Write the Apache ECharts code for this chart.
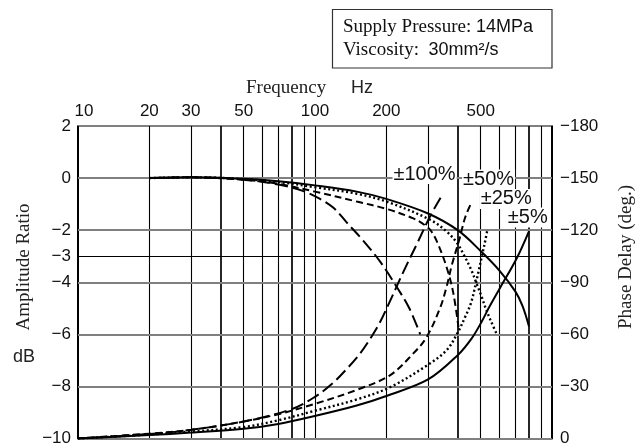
<!DOCTYPE html>
<html>
<head>
<meta charset="utf-8">
<script src="https://cdn.jsdelivr.net/npm/echarts@6/dist/echarts.min.js"></script>
<style>
  html, body { margin: 0; padding: 0; background: #fff; }
  #chart { width: 644px; height: 447px; }
</style>
</head>
<body>
<div id="chart"></div>
<script>
// Frequency labels on the top axis and vertical grid positions (Hz)
const freqLabels = [10, 20, 30, 50, 100, 200, 500];
const freqGrid = [10, 20, 30, 40, 50, 60, 70, 80, 90, 100, 200, 300, 400, 500, 600, 700, 800, 900, 1000];
const freqHeavy = [40, 80, 400, 800];

// Amplitude (dB, left) and phase (deg, right) tick values
const ampTicks = [2, 0, -2, -3, -4, -6, -8, -10];
const ampGrid = [-10, -8, -6, -4, -3, -2, 0];
const phaseTicks = [0, 30, 60, 90, 120, 150, 180];

// Input amplitude tags
const tolNames = ['±5%', '±25%', '±50%', '±100%'];

// Amplitude ratio [Hz, dB]
const amp5 = [[20, 0], [30, 0.03], [50, -0.03], [70, -0.12], [100, -0.28], [150, -0.52], [200, -0.8], [300, -1.36], [400, -2.0], [500, -2.8], [600, -3.55], [700, -4.35], [750, -4.9], [800, -5.7]];
const amp25 = [[20, 0], [30, 0.03], [50, -0.04], [70, -0.15], [100, -0.35], [150, -0.6], [200, -0.9], [306, -1.6], [360, -2.06], [398, -2.5], [424, -2.94], [455, -3.5], [482, -4.08], [506, -4.58], [523, -4.96], [550, -5.45], [585, -6.0]];
const amp50 = [[20, 0], [30, 0.03], [50, -0.06], [70, -0.22], [100, -0.52], [150, -0.9], [200, -1.18], [260, -1.55], [290, -1.8], [310, -2.05], [331, -2.55], [360, -3.45], [383, -4.4], [403, -5.72]];
const amp100 = [[20, 0], [30, 0.03], [50, -0.06], [70, -0.25], [88, -0.48], [105, -0.8], [120, -1.15], [136, -1.7], [159, -2.38], [188, -3.2], [222, -4.2], [250, -5.0], [278, -6.0]];

// Phase delay [Hz, deg]
const phase5 = [[10, 0], [20, 2], [30, 3.4], [50, 5.6], [70, 8.4], [100, 13], [150, 19], [200, 24.5], [300, 34], [400, 48], [460, 58], [506, 67.5], [540, 75], [605, 87], [711, 104], [800, 119.5]];
const phase25 = [[10, 0], [20, 2.3], [30, 4], [50, 6.6], [70, 10.5], [100, 16], [150, 22.5], [207, 29.5], [300, 42.5], [360, 51], [400, 61], [430, 70], [455, 78], [482, 92], [506, 105], [523, 114], [535, 121]];
const phase50 = [[10, 0], [20, 2.8], [30, 5], [50, 9.8], [70, 14], [100, 20], [150, 28], [207, 36.4], [260, 49], [296, 58.5], [338, 75.6], [360, 88], [378, 100], [406, 114.4], [431, 127.7], [459, 136.4]];
const phase100 = [[10, 0], [20, 2.6], [30, 5], [50, 9.8], [80, 17], [100, 24], [118, 31.5], [136, 40], [155, 49], [171, 57.5], [188, 67], [207, 79], [236, 96], [269, 112], [306, 128], [340, 139]];

// ---- drawing ----
const SANS = 'Liberation Sans';
const SERIF = 'Liberation Serif';
const INK = '#111';

const ampSets = [amp5, amp25, amp50, amp100];
const phaseSets = [phase5, phase25, phase50, phase100];
const strokes = [
  { type: 'solid', width: 2 },
  { type: [2, 2.6], width: 2.4 },
  { type: [7, 4], width: 2 },
  { type: [13, 5], width: 2 }
];
// where each amplitude tag sits, in [Hz, deg]
const tagAnchors = [[790, 127.3], [641, 138], [540, 149.2], [290, 152.3]];

function fmtDb(v) {
  if (v === 0) return '0';
  return v < 0 ? '\u2212' + Math.abs(v) : String(v);
}

const gridLines = [];
freqGrid.forEach(f => {
  const edge = f === 10 || f === 1000;
  gridLines.push({
    xAxis: f,
    lineStyle: { color: '#000', width: edge ? 2 : (freqHeavy.includes(f) ? 1.7 : 1.1), type: 'solid' },
    label: {
      show: freqLabels.includes(f),
      formatter: String(f),
      position: 'end',
      distance: 6,
      offset: f === 10 ? [6, 0] : [0, 0],
      color: INK,
      fontFamily: SANS,
      fontSize: 17
    }
  });
});
ampGrid.forEach(v => {
  gridLines.push({
    yAxis: v,
    lineStyle: { color: v === -3 ? '#000' : '#808080', width: v === -3 ? 1.1 : 2, type: 'solid' },
    label: { show: false }
  });
});

function curve(name, data, axis, i) {
  return {
    name: name,
    type: 'line',
    data: data,
    yAxisIndex: axis,
    symbol: 'none',
    smooth: 0.35,
    z: 3,
    silent: true,
    lineStyle: { color: '#000', width: strokes[i].width, type: strokes[i].type, cap: 'butt' }
  };
}

const series = [];
ampSets.forEach((d, i) => {
  const s = curve('amp ' + tolNames[i], d, 0, i);
  if (i === 0) {
    s.markLine = { z: 1, silent: true, symbol: ['none', 'none'], animation: false, data: gridLines };
  }
  series.push(s);
});
phaseSets.forEach((d, i) => {
  const s = curve('phase ' + tolNames[i], d, 1, i);
  s.markPoint = {
    z: 10,
    silent: true,
    symbol: 'rect',
    symbolSize: 1,
    itemStyle: { color: 'rgba(0,0,0,0)' },
    label: {
      show: true,
      position: 'inside',
      formatter: tolNames[i],
      color: INK,
      fontFamily: SANS,
      fontSize: 20,
      backgroundColor: '#fff',
      padding: [0, 1, 0, 1]
    },
    data: [{ coord: tagAnchors[i] }]
  };
  series.push(s);
});

const chart = echarts.init(document.getElementById('chart'), null, { renderer: 'canvas' });
chart.setOption({
  animation: false,
  backgroundColor: '#fff',
  grid: { left: 78, right: 92, top: 126, bottom: 4, containLabel: false },
  xAxis: {
    type: 'log', logBase: 10, min: 10, max: 1000, position: 'top',
    axisLine: { show: true, onZero: false, lineStyle: { color: '#808080', width: 2 } },
    axisTick: { show: false }, axisLabel: { show: false },
    splitLine: { show: false }, minorTick: { show: false }
  },
  yAxis: [
    {
      type: 'value', min: -10, max: 2, interval: 1, position: 'left',
      axisLine: { show: true, onZero: false, lineStyle: { color: '#000', width: 2 } },
      axisTick: { show: false }, splitLine: { show: false },
      axisLabel: {
        margin: 7, color: INK, fontFamily: SANS, fontSize: 17,
        formatter: v => (ampTicks.includes(v) ? fmtDb(v) : '')
      }
    },
    {
      type: 'value', min: 0, max: 180, interval: 30, position: 'right',
      axisLine: { show: true, onZero: false, lineStyle: { color: '#000', width: 2 } },
      axisTick: { show: false }, splitLine: { show: false },
      axisLabel: {
        margin: 8, color: INK, fontFamily: SANS, fontSize: 17,
        formatter: v => (phaseTicks.includes(v) ? (v === 0 ? '0' : '\u2212' + v) : '')
      }
    }
  ],
  graphic: [
    { type: 'rect', shape: { x: 332.5, y: 9.5, width: 219.5, height: 58.5 },
      style: { fill: '#fff', stroke: '#333', lineWidth: 1.2 } },
    { type: 'text', x: 343, y: 27,
      style: { text: '{s|Supply Pressure:} {n|14MPa}', fill: INK, font: '19px "Liberation Serif"', verticalAlign: 'middle',
        rich: { s: { fontFamily: SERIF, fontSize: 19 }, n: { fontFamily: SANS, fontSize: 18 } } } },
    { type: 'text', x: 343, y: 50,
      style: { text: '{s|Viscosity:}  {n|30mm\u00b2/s}', fill: INK, font: '19px "Liberation Serif"', verticalAlign: 'middle',
        rich: { s: { fontFamily: SERIF, fontSize: 19 }, n: { fontFamily: SANS, fontSize: 18 } } } },
    { type: 'text', x: 246, y: 88,
      style: { text: 'Frequency', fill: '#222', font: '19px "Liberation Serif"', verticalAlign: 'middle' } },
    { type: 'text', x: 351, y: 88,
      style: { text: 'Hz', fill: '#222', font: '18px "Liberation Sans"', verticalAlign: 'middle' } },
    { type: 'text', x: 24, y: 267, rotation: Math.PI / 2,
      style: { text: 'Amplitude Ratio', fill: '#222', font: '19px "Liberation Serif"', align: 'center', verticalAlign: 'middle' } },
    { type: 'text', x: 24, y: 357,
      style: { text: 'dB', fill: '#222', font: '18px "Liberation Sans"', align: 'center', verticalAlign: 'middle' } },
    { type: 'text', x: 626, y: 257, rotation: Math.PI / 2,
      style: { text: 'Phase Delay (deg.)', fill: '#222', font: '19px "Liberation Serif"', align: 'center', verticalAlign: 'middle' } }
  ],
  series: series
});
</script>
</body>
</html>
